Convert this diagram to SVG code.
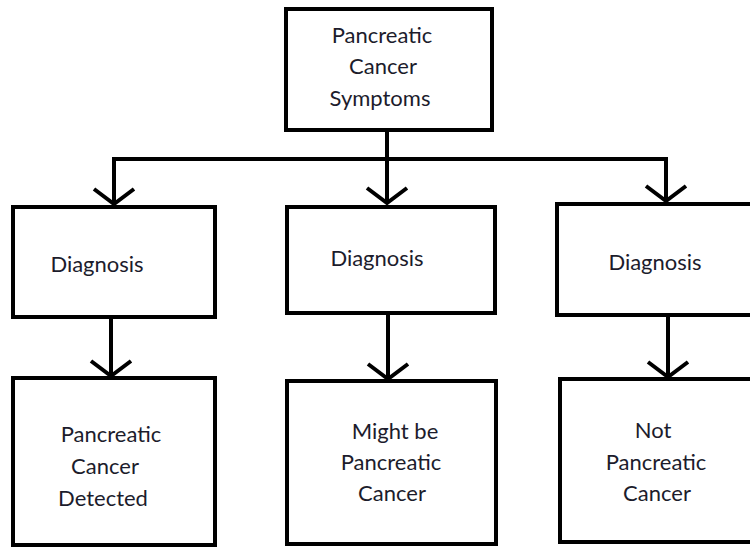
<svg xmlns="http://www.w3.org/2000/svg" width="750" height="548" viewBox="0 0 750 548">
<style>
.box{fill:#fff;stroke:#000;stroke-width:4}
.ln{fill:none;stroke:#000;stroke-width:4}
text{font-family:Lato,"Open Sans","Liberation Sans",sans-serif;font-size:22px;fill:#1c1c2c;text-anchor:middle}
</style>
<defs>
<marker id="ah" markerUnits="userSpaceOnUse" viewBox="-25 -25 30 50" refX="0" refY="0" markerWidth="30" markerHeight="50" orient="auto">
<path d="M-15 -20 L0 0 L-15 20" fill="none" stroke="#000" stroke-width="4"/>
</marker>
</defs>
<rect width="750" height="548" fill="#fff"/>
<g id="connectors">
<path class="ln" d="M387 132 V203" marker-end="url(#ah)"/>
<path class="ln" d="M112 159 H668"/>
<path class="ln" d="M114 157 V204" marker-end="url(#ah)"/>
<path class="ln" d="M666 157 V201" marker-end="url(#ah)"/>
<path class="ln" d="M111 319 V376" marker-end="url(#ah)"/>
<path class="ln" d="M388 315 V379" marker-end="url(#ah)"/>
<path class="ln" d="M668 317 V377" marker-end="url(#ah)"/>
</g>
<g id="symptoms">
<rect class="box" x="286" y="9" width="206" height="121"/>
<text x="382" y="43">Pancreatic</text>
<text x="383" y="74">Cancer</text>
<text x="380" y="106">Symptoms</text>
</g>
<g id="diag-left">
<rect class="box" x="13" y="207" width="202" height="110"/>
<text x="97" y="272">Diagnosis</text>
</g>
<g id="diag-mid">
<rect class="box" x="287" y="207" width="208" height="106"/>
<text x="377" y="266">Diagnosis</text>
</g>
<g id="diag-right">
<rect class="box" x="557" y="204" width="200" height="111"/>
<text x="655" y="270">Diagnosis</text>
</g>
<g id="detected">
<rect class="box" x="13" y="378" width="202" height="167"/>
<text x="111" y="442">Pancreatic</text>
<text x="105" y="474">Cancer</text>
<text x="103" y="506">Detected</text>
</g>
<g id="might-be">
<rect class="box" x="287" y="381" width="209" height="163"/>
<text x="395" y="439">Might be</text>
<text x="391" y="470">Pancreatic</text>
<text x="392" y="501">Cancer</text>
</g>
<g id="not">
<rect class="box" x="560" y="379" width="200" height="163"/>
<text x="653" y="438">Not</text>
<text x="656" y="470">Pancreatic</text>
<text x="657" y="501">Cancer</text>
</g>
</svg>
